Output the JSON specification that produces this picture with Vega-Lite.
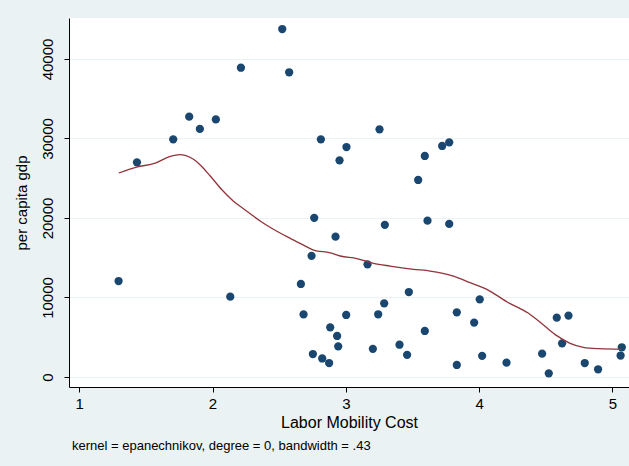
{
  "$schema": "https://vega.github.io/schema/vega-lite/v6.json",
  "width": 560,
  "height": 369,
  "autosize": {"type": "none"},
  "padding": {"left": 69, "top": 18, "right": 0, "bottom": 79},
  "background": "#EAF2F3",
  "view": {"fill": "white", "stroke": null},
  "title": {
    "text": "kernel = epanechnikov, degree = 0, bandwidth = .43",
    "orient": "bottom",
    "anchor": "start",
    "frame": "group",
    "font": "Liberation Sans",
    "fontSize": 13,
    "fontWeight": "normal",
    "color": "black",
    "dx": 3,
    "offset": 10
  },
  "datasets": {
    "pts": [
      {"cost": 1.295, "gdp": 12075},
      {"cost": 1.433, "gdp": 27000},
      {"cost": 1.705, "gdp": 29900},
      {"cost": 1.825, "gdp": 32750},
      {"cost": 1.905, "gdp": 31200},
      {"cost": 2.025, "gdp": 32400},
      {"cost": 2.133, "gdp": 10100},
      {"cost": 2.213, "gdp": 38900},
      {"cost": 2.523, "gdp": 43770},
      {"cost": 2.575, "gdp": 38330},
      {"cost": 2.663, "gdp": 11700},
      {"cost": 2.683, "gdp": 7870},
      {"cost": 2.743, "gdp": 15240},
      {"cost": 2.753, "gdp": 2890},
      {"cost": 2.763, "gdp": 20020},
      {"cost": 2.813, "gdp": 29900},
      {"cost": 2.823, "gdp": 2330},
      {"cost": 2.875, "gdp": 1760},
      {"cost": 2.883, "gdp": 6250},
      {"cost": 2.923, "gdp": 17650},
      {"cost": 2.935, "gdp": 5160},
      {"cost": 2.943, "gdp": 3860},
      {"cost": 2.953, "gdp": 27250},
      {"cost": 3.003, "gdp": 7800},
      {"cost": 3.005, "gdp": 28930},
      {"cost": 3.163, "gdp": 14170},
      {"cost": 3.203, "gdp": 3540},
      {"cost": 3.243, "gdp": 7890},
      {"cost": 3.253, "gdp": 31150},
      {"cost": 3.288, "gdp": 9270},
      {"cost": 3.293, "gdp": 19140},
      {"cost": 3.403, "gdp": 4060},
      {"cost": 3.46, "gdp": 2790},
      {"cost": 3.473, "gdp": 10690},
      {"cost": 3.543, "gdp": 24780},
      {"cost": 3.593, "gdp": 27800},
      {"cost": 3.593, "gdp": 5790},
      {"cost": 3.613, "gdp": 19660},
      {"cost": 3.723, "gdp": 29060},
      {"cost": 3.776, "gdp": 29520},
      {"cost": 3.776, "gdp": 19260},
      {"cost": 3.833, "gdp": 8130},
      {"cost": 3.833, "gdp": 1510},
      {"cost": 3.963, "gdp": 6850},
      {"cost": 4.005, "gdp": 9770},
      {"cost": 4.023, "gdp": 2660},
      {"cost": 4.206, "gdp": 1800},
      {"cost": 4.473, "gdp": 2930},
      {"cost": 4.523, "gdp": 465},
      {"cost": 4.583, "gdp": 7460},
      {"cost": 4.623, "gdp": 4240},
      {"cost": 4.671, "gdp": 7730},
      {"cost": 4.793, "gdp": 1760},
      {"cost": 4.893, "gdp": 970},
      {"cost": 5.071, "gdp": 3740},
      {"cost": 5.062, "gdp": 2700}
    ],
    "smooth": [
      {"cost": 1.296, "fit": 25660},
      {"cost": 1.43, "fit": 26400},
      {"cost": 1.57, "fit": 26900},
      {"cost": 1.683, "fit": 27750},
      {"cost": 1.755, "fit": 27980},
      {"cost": 1.8, "fit": 27850},
      {"cost": 1.86, "fit": 27350},
      {"cost": 1.908, "fit": 26670},
      {"cost": 1.983, "fit": 25280},
      {"cost": 2.07, "fit": 23550},
      {"cost": 2.155, "fit": 22150},
      {"cost": 2.245, "fit": 21000},
      {"cost": 2.36, "fit": 19600},
      {"cost": 2.45, "fit": 18650},
      {"cost": 2.583, "fit": 17440},
      {"cost": 2.658, "fit": 16800},
      {"cost": 2.758, "fit": 15970},
      {"cost": 2.883, "fit": 15620},
      {"cost": 2.958, "fit": 15220},
      {"cost": 3.083, "fit": 14900},
      {"cost": 3.208, "fit": 14300},
      {"cost": 3.333, "fit": 13950},
      {"cost": 3.508, "fit": 13550},
      {"cost": 3.633, "fit": 13330},
      {"cost": 3.72, "fit": 13080},
      {"cost": 3.808, "fit": 12700},
      {"cost": 3.933, "fit": 11860},
      {"cost": 4.058, "fit": 11030},
      {"cost": 4.208, "fit": 9470},
      {"cost": 4.371, "fit": 8010},
      {"cost": 4.483, "fit": 6540},
      {"cost": 4.583, "fit": 5200},
      {"cost": 4.683, "fit": 4240},
      {"cost": 4.783, "fit": 3740},
      {"cost": 4.9, "fit": 3560},
      {"cost": 5.071, "fit": 3480}
    ]
  },
  "config": {
    "font": "Liberation Sans",
    "axis": {
      "domainColor": "black",
      "domainWidth": 1,
      "tickColor": "black",
      "tickSize": 5,
      "labelColor": "black",
      "titleColor": "black",
      "labelFont": "Liberation Sans",
      "titleFont": "Liberation Sans",
      "titleFontWeight": "normal"
    }
  },
  "layer": [
    {
      "data": {"name": "pts"},
      "mark": {"type": "circle", "size": 68, "color": "#1A476F", "opacity": 1},
      "encoding": {
        "x": {
          "field": "cost",
          "type": "quantitative",
          "scale": {"domain": [0.923, 5.125], "nice": false, "zero": false},
          "axis": {
            "title": "Labor Mobility Cost",
            "values": [1, 2, 3, 4, 5],
            "format": "d",
            "grid": false,
            "labelFontSize": 15,
            "titleFontSize": 16,
            "labelPadding": 4,
            "titlePadding": 3
          }
        },
        "y": {
          "field": "gdp",
          "type": "quantitative",
          "scale": {"domain": [-1258, 45157], "nice": false, "zero": false},
          "axis": {
            "title": "per capita gdp",
            "values": [0, 10000, 20000, 30000, 40000],
            "format": "d",
            "grid": true,
            "gridColor": "#EAF2F3",
            "gridWidth": 1.2,
            "labelAngle": 270,
            "labelAlign": "center",
            "labelBaseline": "bottom",
            "labelFontSize": 15,
            "titleFontSize": 15,
            "labelPadding": 9,
            "titlePadding": 11
          }
        }
      }
    },
    {
      "data": {"name": "smooth"},
      "mark": {"type": "line", "color": "#90353B", "strokeWidth": 1.3, "interpolate": "monotone"},
      "encoding": {
        "x": {"field": "cost", "type": "quantitative"},
        "y": {"field": "fit", "type": "quantitative"}
      }
    }
  ]
}
